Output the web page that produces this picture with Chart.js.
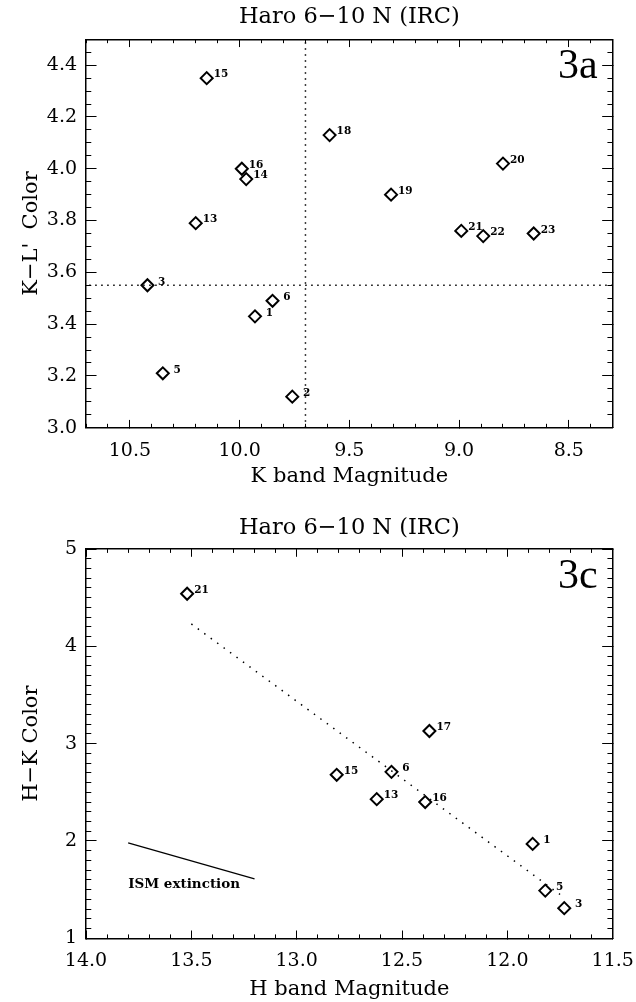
<!DOCTYPE html>
<html>
<head>
<meta charset="utf-8">
<script src="https://cdn.jsdelivr.net/npm/chart.js@4.4.1/dist/chart.umd.min.js"></script>
<style>
  html, body { margin: 0; padding: 0; background: #fff; }
  .panel { position: relative; width: 636px; height: 501px; }
  canvas { display: block; }
</style>
</head>
<body>
<div class="panel"><canvas id="chartA" width="636" height="501"></canvas></div>
<div class="panel"><canvas id="chartC" width="636" height="501"></canvas></div>
<script>
// panel 3a: K-L' colour against K magnitude
const starsA = [' 1', ' 2', ' 3', ' 5', ' 6', '13', '14', '15', '16', '18', '19', '20', '21', '22', '23'];
const kMagA = [9.93, 9.76, 10.42, 10.35, 9.85, 10.20, 9.97, 10.15, 9.99, 9.59, 9.31, 8.80, 8.99, 8.89, 8.66];
const klColorA = [3.43, 3.12, 3.55, 3.21, 3.49, 3.79, 3.96, 4.35, 4.00, 4.13, 3.90, 4.02, 3.76, 3.74, 3.75];
const kRangeA = [8.3, 10.7];
const klRangeA = [3.0, 4.5];
const kCutA = 9.7;
const klCutA = 3.55;

// panel 3c: H-K colour against H magnitude
const starsC = ['21', '17', '15', ' 6', '13', '16', ' 1', ' 5', ' 3'];
const hMagC = [13.52, 12.37, 12.81, 12.55, 12.62, 12.39, 11.88, 11.82, 11.73];
const hkColorC = [4.54, 3.13, 2.68, 2.71, 2.43, 2.40, 1.97, 1.49, 1.31];
const hRangeC = [11.5, 14.0];
const hkRangeC = [1, 5];
const fitH = [13.5, 11.75];
const fitHK = [4.23, 1.45];
const ismH = [13.8, 13.2];
const ismHK = [1.98, 1.61];
const ismNote = { text: 'ISM extinction', h: 13.8, hk: 1.55 };

const INK = '#000';
const SERIF = '"DejaVu Serif", serif';
const W = 636;
const H = 501;

const pointTags = {
  id: 'pointTags',
  afterDatasetsDraw(chart, args, opts) {
    const { ctx } = chart;
    const meta = chart.getDatasetMeta(0);
    ctx.save();
    ctx.font = `bold 10.5px ${SERIF}`;
    ctx.fillStyle = INK;
    ctx.textAlign = 'left';
    ctx.textBaseline = 'middle';
    meta.data.forEach((pt, i) => ctx.fillText(opts.labels[i], pt.x + 7, pt.y - 3.5));
    ctx.restore();
  }
};

const panelText = {
  id: 'panelText',
  afterDraw(chart, args, opts) {
    const { ctx, chartArea, scales } = chart;
    ctx.save();
    ctx.fillStyle = INK;
    ctx.font = '42px "Liberation Serif", serif';
    ctx.textAlign = 'right';
    ctx.textBaseline = 'alphabetic';
    ctx.fillText(opts.tag, chartArea.right - 15, chartArea.top + 38.5);
    if (opts.note) {
      ctx.font = `bold 13.5px ${SERIF}`;
      ctx.textAlign = 'left';
      ctx.textBaseline = 'middle';
      ctx.fillText(opts.note.text, scales.x.getPixelForValue(opts.note.h), scales.y.getPixelForValue(opts.note.hk));
    }
    ctx.restore();
  }
};

function boxScales(cfg) {
  const tickFont = { family: SERIF, size: 19 };
  const titleFont = { family: SERIF, size: 21 };
  const border = { display: true, color: INK, width: 1.5 };
  const noBorder = { display: false };
  const grid = (len) => ({ drawOnChartArea: false, drawTicks: true, tickLength: -len, color: INK, lineWidth: 1 });
  const bare = (step) => ({ display: false, stepSize: step, includeBounds: false });
  const xBase = { type: 'linear', axis: 'x', min: cfg.xRange[0], max: cfg.xRange[1], reverse: true };
  const yBase = { type: 'linear', axis: 'y', min: cfg.yRange[0], max: cfg.yRange[1] };
  const flat = (s) => { s.paddingLeft = 0; s.paddingRight = 0; s.paddingTop = 0; s.paddingBottom = 0; };
  const zeroH = (s) => { s.height = 0; flat(s); };
  const zeroW = (s) => { s.width = 0; flat(s); };
  const xTick = (cfg.area.bottom - cfg.area.top) * 0.02;
  const yTick = (cfg.area.right - cfg.area.left) * 0.02;

  return {
    x: {
      ...xBase, position: 'bottom', weight: 1, border, grid: grid(xTick),
      ticks: { stepSize: cfg.xStep, includeBounds: false, autoSkip: false, maxRotation: 0, padding: 19.5, color: INK, font: tickFont, callback: (v) => v.toFixed(1) },
      title: { display: true, text: cfg.xTitle, color: INK, font: titleFont, padding: { top: 0, bottom: cfg.xTitlePad } },
      afterFit: (s) => { s.height = H - cfg.area.bottom; flat(s); }
    },
    xMinor: { ...xBase, position: 'bottom', weight: 0, border: noBorder, grid: grid(xTick / 2), ticks: bare(cfg.xMinor), afterFit: zeroH },
    xTop: { ...xBase, position: 'top', weight: 1, border, grid: grid(xTick), ticks: bare(cfg.xStep), afterFit: zeroH },
    xTopMinor: { ...xBase, position: 'top', weight: 0, border: noBorder, grid: grid(xTick / 2), ticks: bare(cfg.xMinor), afterFit: zeroH },
    y: {
      ...yBase, position: 'left', weight: 1, border, grid: grid(yTick),
      ticks: { stepSize: cfg.yStep, includeBounds: false, autoSkip: false, padding: 19.5, color: INK, font: tickFont, callback: cfg.yFmt },
      title: { display: true, text: cfg.yTitle, color: INK, font: titleFont, padding: { top: 19, bottom: 0 } },
      afterFit: (s) => { s.width = cfg.area.left; flat(s); }
    },
    yMinor: { ...yBase, position: 'left', weight: 0, border: noBorder, grid: grid(yTick / 2), ticks: bare(cfg.yMinor), afterFit: zeroW },
    yRight: { ...yBase, position: 'right', weight: 1, border, grid: grid(yTick), ticks: bare(cfg.yStep), afterFit: zeroW },
    yRightMinor: { ...yBase, position: 'right', weight: 0, border: noBorder, grid: grid(yTick / 2), ticks: bare(cfg.yMinor), afterFit: zeroW }
  };
}

const diamonds = (xs, ys) => ({
  data: xs.map((x, i) => ({ x, y: ys[i] })),
  pointStyle: 'rectRot',
  pointRadius: 6,
  pointBorderWidth: 2,
  pointBorderColor: INK,
  pointBackgroundColor: 'rgba(0,0,0,0)',
  showLine: false
});

const segment = (xs, ys, dash) => ({
  data: xs.map((x, i) => ({ x, y: ys[i] })),
  showLine: true,
  borderColor: INK,
  borderWidth: dash ? 1.5 : 1.2,
  borderDash: dash || [],
  pointRadius: 0,
  fill: false,
  tension: 0
});

function titleOpts(padTop, areaTop) {
  const size = 22.5;
  return {
    display: true,
    fullSize: false,
    text: 'Haro 6\u221210 N (IRC)',
    color: INK,
    font: { family: SERIF, size, weight: 'normal', lineHeight: 1.2 },
    padding: { top: padTop, bottom: areaTop - size * 1.2 - padTop }
  };
}

const areaA = { left: 86, right: 612.7, top: 39.3, bottom: 427.7 };
new Chart(document.getElementById('chartA'), {
  type: 'scatter',
  data: {
    datasets: [
      diamonds(kMagA, klColorA),
      segment([kCutA, kCutA], klRangeA, [1.5, 4.5]),
      segment(kRangeA, [klCutA, klCutA], [1.5, 4.5])
    ]
  },
  options: {
    responsive: false,
    animation: false,
    events: [],
    layout: { padding: { left: 0, top: 0, bottom: 0, right: W - areaA.right } },
    plugins: {
      legend: { display: false },
      tooltip: { enabled: false },
      title: titleOpts(4, areaA.top),
      pointTags: { labels: starsA },
      panelText: { tag: '3a' }
    },
    scales: boxScales({
      area: areaA, xRange: kRangeA, yRange: klRangeA,
      xStep: 0.5, xMinor: 0.1, yStep: 0.2, yMinor: 0.05,
      xTitle: 'K band Magnitude', yTitle: "K\u2212L'  Color", xTitlePad: 12,
      yFmt: (v) => v.toFixed(1)
    })
  },
  plugins: [pointTags, panelText]
});

const areaC = { left: 86, right: 612.7, top: 48, bottom: 437.3 };
new Chart(document.getElementById('chartC'), {
  type: 'scatter',
  data: {
    datasets: [
      diamonds(hMagC, hkColorC),
      segment(fitH, fitHK, [1.5, 6.5]),
      segment(ismH, ismHK, null)
    ]
  },
  options: {
    responsive: false,
    animation: false,
    events: [],
    layout: { padding: { left: 0, top: 0, bottom: 0, right: W - areaC.right } },
    plugins: {
      legend: { display: false },
      tooltip: { enabled: false },
      title: titleOpts(13.8, areaC.top),
      pointTags: { labels: starsC },
      panelText: { tag: '3c', note: ismNote }
    },
    scales: boxScales({
      area: areaC, xRange: hRangeC, yRange: hkRangeC,
      xStep: 0.5, xMinor: 0.1, yStep: 1, yMinor: 0.1,
      xTitle: 'H band Magnitude', yTitle: 'H\u2212K Color', xTitlePad: 0,
      yFmt: (v) => String(Math.round(v))
    })
  },
  plugins: [pointTags, panelText]
});
</script>
</body>
</html>
